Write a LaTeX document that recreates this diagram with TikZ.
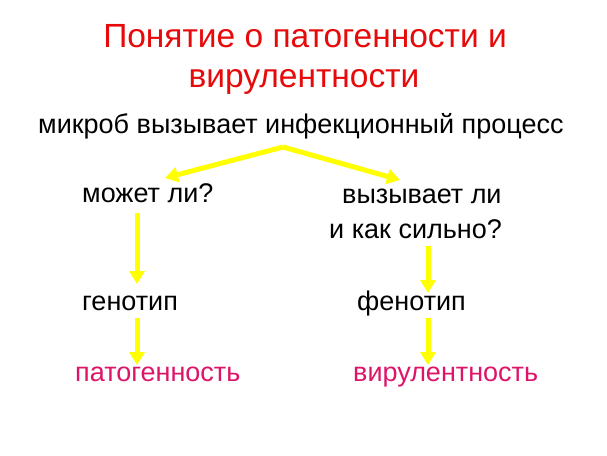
\documentclass[tikz,border=0pt]{standalone}
\usepackage{fontspec}
\setmainfont{Liberation Sans}
\usetikzlibrary{arrows.meta}
\definecolor{titlered}{RGB}{230,10,10}
\definecolor{pinkred}{RGB}{222,20,105}
\definecolor{arryellow}{RGB}{255,255,0}
\tikzset{
  body/.style={inner sep=0pt,anchor=base west,font=\fontsize{27}{32}\selectfont},
  ttl/.style={inner sep=0pt,anchor=base,text=titlered,font=\fontsize{33.5}{38}\selectfont},
  term/.style={body,text=pinkred},
  yarr/.style={draw=arryellow,line width=5pt,-{Triangle[length=13pt,width=15pt]}}
}
\begin{document}
\begin{tikzpicture}[x=1pt,y=-1pt]
\useasboundingbox[fill=white] (0,0) rectangle (607,455);
\node[ttl] (t1) at (305,47) {Понятие о патогенности и};
\node[ttl] (t2) at (304,87) {вирулентности};
\node[body] (sub) at (38,133) {микроб вызывает инфекционный процесс};
\node[body] (q1) at (82,202) {может ли?};
\node[body] (q2a) at (342,203) {вызывает ли};
\node[body] (q2b) at (329,238) {и как сильно?};
\node[body] (geno) at (82,310) {генотип};
\node[body] (feno) at (357,310) {фенотип};
\node[term] (pat) at (75,381) {патогенность};
\node[term] (vir) at (353,381) {вирулентность};
\coordinate (apex) at (283,147);
\coordinate (tipL) at (165,178);
\coordinate (tipR) at (400,180);
\coordinate (l1s) at (137,213);
\coordinate (l1e) at (137,284);
\coordinate (l2s) at (137,318);
\coordinate (l2e) at (137,365);
\coordinate (r1s) at (428,246);
\coordinate (r1e) at (428,293);
\coordinate (r2s) at (428,318);
\coordinate (r2e) at (428,365);
\draw[yarr] (apex) -- (tipL);
\draw[yarr] (apex) -- (tipR);
\draw[yarr] (l1s) -- (l1e);
\draw[yarr] (l2s) -- (l2e);
\draw[yarr] (r1s) -- (r1e);
\draw[yarr] (r2s) -- (r2e);
\end{tikzpicture}
\end{document}
